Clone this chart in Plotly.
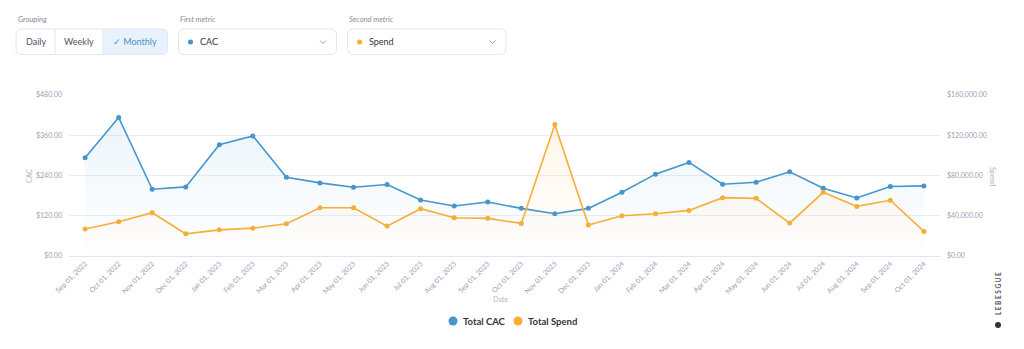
import plotly.graph_objects as go

months = ["Sep 01, 2022", "Oct 01, 2022", "Nov 01, 2022", "Dec 01, 2022", "Jan 01, 2023",
          "Feb 01, 2023", "Mar 01, 2023", "Apr 01, 2023", "May 01, 2023", "Jun 01, 2023",
          "Jul 01, 2023", "Aug 01, 2023", "Sep 01, 2023", "Oct 01, 2023", "Nov 01, 2023",
          "Dec 01, 2023", "Jan 01, 2024", "Feb 01, 2024", "Mar 01, 2024", "Apr 01, 2024",
          "May 01, 2024", "Jun 01, 2024", "Jul 01, 2024", "Aug 01, 2024", "Sep 01, 2024",
          "Oct 01, 2024"]
cac_vals = [293, 413, 199, 206, 332, 358, 235, 218, 205, 213, 167, 149, 161, 142, 126,
            142, 190, 244, 279, 214, 220, 251, 202, 173, 207, 209]
spend_vals = [26900, 34000, 43000, 22000, 26000, 27700, 32000, 48000, 48000, 29700, 47000,
              38000, 37400, 32400, 130700, 30700, 40000, 42000, 45300, 58000, 57300, 32700,
              63300, 49300, 55400, 24400]
series_names = ["Total CAC", "Total Spend"]
left_ticks = [0, 120, 240, 360, 480]
right_ticks = [0, 40000, 80000, 120000, 160000]

BLUE = "#4596cc"
ORANGE = "#f6ae37"
GRAY = "#9d9db6"
FONT = "Lato, 'Open Sans', sans-serif"

W, H = 1024, 349
L, R, T, B = 69, 940, 95, 256


def px(x):
    return (x - L) / (R - L)


def py(y):
    return (B - y) / (B - T)


def rr(x0, y0, x1, y1, r, corners=(1, 1, 1, 1)):
    tl, tr, br, bl = [r * c for c in corners]
    p = [f"M{px(x0 + tl)},{py(y0)}", f"L{px(x1 - tr)},{py(y0)}"]
    if tr:
        p.append(f"Q{px(x1)},{py(y0)} {px(x1)},{py(y0 + tr)}")
    p.append(f"L{px(x1)},{py(y1 - br)}")
    if br:
        p.append(f"Q{px(x1)},{py(y1)} {px(x1 - br)},{py(y1)}")
    p.append(f"L{px(x0 + bl)},{py(y1)}")
    if bl:
        p.append(f"Q{px(x0)},{py(y1)} {px(x0)},{py(y1 - bl)}")
    p.append(f"L{px(x0)},{py(y0 + tl)}")
    if tl:
        p.append(f"Q{px(x0)},{py(y0)} {px(x0 + tl)},{py(y0)}")
    p.append("Z")
    return " ".join(p)


def note(x, y, text, font, xanchor="center", angle=0):
    return dict(x=px(x), y=py(y), xref="paper", yref="paper", text=text, showarrow=False,
                xanchor=xanchor, yanchor="middle", textangle=angle, font=font)


xs = list(range(len(months)))
fig = go.Figure()
fig.add_trace(go.Scatter(
    x=xs, y=cac_vals, mode="lines+markers", name=series_names[0], showlegend=False,
    line=dict(color=BLUE, width=1.6), marker=dict(color=BLUE, size=5),
    fill="tozeroy",
    fillgradient=dict(type="vertical", colorscale=[[0, "rgba(69,150,204,0.0)"], [1, "rgba(69,150,204,0.10)"]]),
))
fig.add_trace(go.Scatter(
    x=xs, y=spend_vals, mode="lines+markers", name=series_names[1], showlegend=False, yaxis="y2",
    line=dict(color=ORANGE, width=1.6), marker=dict(color=ORANGE, size=5),
    fill="tozeroy",
    fillgradient=dict(type="vertical", colorscale=[[0, "rgba(246,174,55,0.0)"], [1, "rgba(246,174,55,0.12)"]]),
))

shapes = []
annotations = []

# Controls
lab = dict(size=7.5, color="#8a8a99", family=FONT)
for x, t in [(16, "Grouping"), (178, "First metric"), (347, "Second metric")]:
    annotations.append(note(x, 19, f"<i>{t}</i>", lab, "left"))
shapes.append(dict(type="path", path=rr(103, 29, 167.5, 54.5, 6, (0, 1, 1, 0)), xref="paper", yref="paper",
                   fillcolor="#e8f2fd", line=dict(width=0)))
shapes.append(dict(type="path", path=rr(16, 29, 167.5, 54.5, 6), xref="paper", yref="paper",
                   fillcolor="rgba(0,0,0,0)", line=dict(color="#e3e6ee", width=1)))
for x in (55, 103):
    shapes.append(dict(type="line", x0=px(x), x1=px(x), y0=py(29), y1=py(54.5), xref="paper", yref="paper",
                       line=dict(color="#e3e6ee", width=1)))
btn = dict(size=9, color="#555566", family=FONT)
annotations.append(note(35.5, 42, "Daily", btn))
annotations.append(note(79, 42, "Weekly", btn))
annotations.append(note(135, 42, "✓ Monthly", dict(size=9, color="#4a90c8", family=FONT)))
for x0, x1, col, txt in [(178.5, 336.5, BLUE, "CAC"), (347.5, 506, ORANGE, "Spend")]:
    shapes.append(dict(type="path", path=rr(x0, 29, x1, 54.5, 6), xref="paper", yref="paper",
                       fillcolor="#ffffff", line=dict(color="#e3e6ee", width=1)))
    shapes.append(dict(type="circle", x0=px(x0 + 9.5), x1=px(x0 + 14.5), y0=py(44.5), y1=py(39.5),
                       xref="paper", yref="paper", fillcolor=col, line=dict(width=0)))
    annotations.append(note(x0 + 19.5, 42, txt, dict(size=9, color="#333340", family=FONT), "left"))
    cx = x1 - 13.5
    shapes.append(dict(type="path", path=f"M{px(cx - 3)},{py(40.5)} L{px(cx)},{py(43.5)} L{px(cx + 3)},{py(40.5)}",
                       xref="paper", yref="paper", line=dict(color="#9aa3b5", width=1)))

# axis titles
ttl = dict(size=7, color="#b4b4c8", family=FONT)
annotations.append(note(29, 176, "CAC", ttl, angle=-90))
annotations.append(note(993, 176, "Spend", ttl, angle=90))
annotations.append(note(500, 299, "Date", ttl))

# legend (marker dot + bold label)
leg_font = dict(size=9.5, color="#333340", family=FONT, weight="bold")
for cx, col, name in [(453, BLUE, series_names[0]), (518, ORANGE, series_names[1])]:
    shapes.append(dict(type="circle", x0=px(cx - 4.5), x1=px(cx + 4.5), y0=py(325.5), y1=py(316.5),
                       xref="paper", yref="paper", fillcolor=col, line=dict(width=0)))
    annotations.append(note(cx + 8, 321, name, leg_font, "left"))

# watermark
annotations.append(note(998, 294, "<b>L E B E S G U E</b>", dict(size=6.5, color="#555560", family=FONT),
                        angle=-90))
shapes.append(dict(type="circle", x0=px(995), x1=px(1001), y0=py(328), y1=py(322), xref="paper", yref="paper",
                   fillcolor="#333338", line=dict(width=0)))

tickfont = dict(size=7, color=GRAY, family=FONT)
fig.update_layout(
    width=W, height=H,
    margin=dict(l=L, r=W - R, t=T, b=H - B, pad=0),
    paper_bgcolor="white", plot_bgcolor="white",
    font=dict(family=FONT),
    xaxis=dict(range=[-0.48, len(months) - 1 + 0.48], tickvals=xs, ticktext=months, tickangle=-45,
               tickfont=tickfont, showgrid=False, zeroline=False, showline=True,
               linecolor="#dfe5f0", linewidth=1, ticks="", fixedrange=True),
    yaxis=dict(range=[0, 480], tickvals=left_ticks, tickformat="$,.2f", tickfont=tickfont,
               gridcolor="#ededf2", gridwidth=1, zeroline=False, showline=False, ticks="",
               ticklabelstandoff=6),
    yaxis2=dict(range=[0, 160000], tickvals=right_ticks, tickformat="$,.2f", tickfont=tickfont,
                overlaying="y", side="right", showgrid=False, zeroline=False, showline=False, ticks="",
                ticklabelstandoff=6),
    shapes=shapes, annotations=annotations,
    showlegend=False,
)
fig.write_html("out.html")
